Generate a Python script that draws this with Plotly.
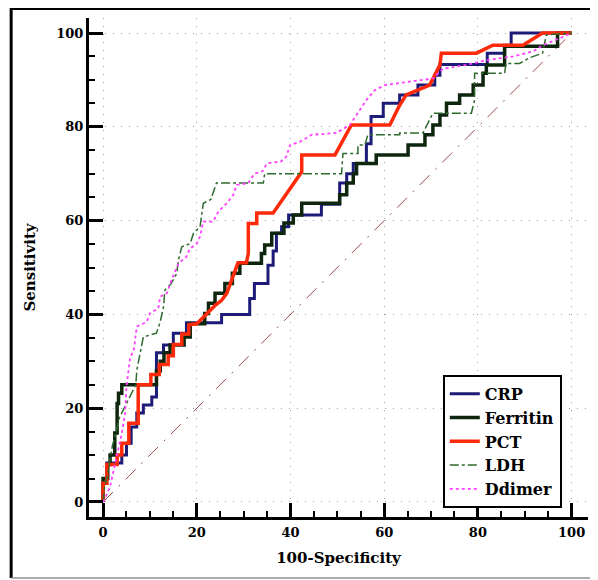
import plotly.graph_objects as go

# ---- data ----
crp_x = [0, 0, 0.8, 0.8, 4, 4, 5, 5, 6, 6, 7.2, 7.2, 8.6, 8.6, 10.4, 10.4, 11.4, 11.4, 12.9, 12.9, 15, 15,
         17.8, 17.8, 25.3, 25.3, 31.3, 31.3, 32.3, 32.3, 35.2, 35.2, 36.3, 36.3, 37, 37, 38.1, 38.1, 39.6, 39.6,
         46.6, 46.6, 50.5, 50.5, 52, 52, 53.4, 53.4, 56.2, 56.2, 57.2, 57.2, 59.8, 59.8, 63.3, 63.3, 67.2, 67.2,
         70.8, 70.8, 71.9, 71.9, 82, 82, 85.7, 85.7, 87.1, 87.1, 100]
crp_y = [0, 4, 4, 8.3, 8.3, 10, 10, 12.5, 12.5, 16, 16, 19, 19, 20.7, 20.7, 22.4, 22.4, 31.8, 31.8, 33.5, 33.5, 36,
         36, 38.2, 38.2, 40, 40, 43.4, 43.4, 46.6, 46.6, 50.5, 50.5, 53.5, 53.5, 57.3, 57.3, 58.7, 58.7, 61.2,
         61.2, 63.5, 63.5, 68, 68, 70, 70, 72.2, 72.2, 76.4, 76.4, 82.2, 82.2, 85, 85, 86.8, 86.8, 88.9,
         88.9, 91, 91, 93.3, 93.3, 95.7, 95.7, 97.4, 97.4, 100, 100]

ferritin_x = [0, 0, 1, 1, 1.5, 1.5, 2.5, 2.5, 3, 3, 3.3, 3.3, 4, 4, 11.4, 11.4, 12.2, 12.2, 13, 13, 14.3, 14.3,
              17.3, 17.3, 18.6, 18.6, 21.7, 21.7, 22.5, 22.5, 23.9, 23.9, 26, 26, 27.6, 27.6, 29.2, 29.2,
              33.8, 33.8, 34.5, 34.5, 36, 36, 38.6, 38.6, 40.6, 40.6, 42.4, 42.4, 50.5, 50.5, 52, 52, 53.4, 53.4,
              54.1, 54.1, 58.3, 58.3, 65.1, 65.1, 68.7, 68.7, 70.4, 70.4, 71.9, 71.9, 73.3, 73.3, 76.1, 76.1,
              79, 79, 81.1, 81.1, 81.8, 81.8, 85.7, 85.7, 97, 97, 100]
ferritin_y = [0, 5, 5, 8, 8, 10, 10, 14.7, 14.7, 21, 21, 23.2, 23.2, 25, 25, 28, 28, 30, 30, 31.8, 31.8, 33.5,
              33.5, 35.2, 35.2, 38, 38, 40.2, 40.2, 42.4, 42.4, 44.5, 44.5, 46.6, 46.6, 48.8, 48.8, 50.9,
              50.9, 53, 53, 54.8, 54.8, 57.3, 57.3, 59.5, 59.5, 61.2, 61.2, 63.7, 63.7, 65.5, 65.5, 68, 68, 70,
              70, 72.2, 72.2, 74, 74, 76.1, 76.1, 78.3, 78.3, 80.4, 80.4, 82.5, 82.5, 85, 85, 86.8,
              86.8, 88.9, 88.9, 91.4, 91.4, 93.2, 93.2, 97.2, 97.2, 100, 100]

pct_x = [0, 0, 0.8, 0.8, 3, 3, 4, 4, 5.5, 5.5, 7.5, 7.5, 10.2, 10.2, 12, 12, 13.9, 13.9, 15, 15, 16.8, 16.8,
         18.3, 18.3, 20, 22, 24, 25.3, 26.4, 28.8, 30.6, 31, 31, 32.8, 32.8, 36.3, 42.4, 42.4, 49.5, 53,
         61.2, 63.3, 64.7, 69.7, 71.9, 72.2, 79.7, 83.2, 89.6, 93.8, 100]
pct_y = [0, 4, 4, 8, 8, 10, 10, 12.5, 12.5, 16.8, 16.8, 25, 25, 27.2, 27.2, 29.3, 29.3, 31.2, 31.2, 33.6, 33.6, 35.8,
         35.8, 37.8, 38, 40, 42, 43, 44.5, 51, 51, 53, 59.4, 59.4, 61.6, 61.6, 70.4, 74, 74, 80.4,
         80.4, 84.6, 86.8, 88.9, 93.2, 95.7, 95.7, 97.4, 97.4, 100, 100]

ldh_x = [0, 0.3, 1, 1.5, 2, 2.8, 3.5, 5, 6.1, 7, 7.2, 8.2, 8.6, 11.4, 12.2, 12.9, 13.2, 14.5, 15.7, 16.1, 16.8,
         18.6, 19.3, 20.7, 21, 21.4, 23, 23.5, 24.2, 34.2, 34.5, 50.9, 51.2, 54.4, 54.4, 55.9, 56.5, 63.3, 63.3,
         68.3, 70.4, 78.6, 79.3, 79.3, 85.7, 86, 88.9, 91, 93.8, 94.6, 100]
ldh_y = [0, 3, 6, 9, 12, 15, 18, 21, 23.2, 25, 28.1, 32.8, 35.2, 36, 38.4, 41.6, 45.2, 46.5, 48.7, 51.6, 54.4,
         55.1, 57.3, 58.7, 61, 63.7, 64.5, 65.8, 68, 68, 70, 70, 74.3, 74.3, 76.1, 76.1, 78.3, 78.3, 78.7,
         78.7, 82.9, 82.9, 85.7, 91.4, 91.4, 93.5, 93.5, 94.7, 95.7, 99.6, 100]

ddimer_x = [0, 0.3, 1.5, 2.2, 2.9, 4, 4.7, 5, 5.4, 5.8, 6.5, 7.2, 9.3, 10, 11.8, 12.2, 13.6, 14.6, 16.1, 17.8,
            18.5, 20, 20.7, 21.4, 23.5, 24.6, 26.4, 27.8, 28.5, 31, 32.3, 34, 35, 38, 39.1, 39.9, 42, 44.5,
            49.8, 52.7, 56.2, 58, 60.1, 65.5, 70.4, 72.6, 77.5, 81.8, 87.5, 91.8, 93.9, 98.2, 100]
ddimer_y = [0, 0.5, 3.3, 6.8, 9.7, 14.6, 18.9, 24.6, 27.4, 31, 32, 37.4, 38.4, 40.2, 41.3, 43.8, 44.5, 47.3, 50.9,
            52.3, 54, 55.1, 56.6, 59.8, 59.8, 61.9, 63.7, 65.5, 67.6, 68, 70, 70.5, 72.2, 72.6, 73.6, 76.1, 76.8,
            78.3, 78.7, 80.4, 85.7, 87.8, 88.9, 89.6, 90.3, 92.4, 93.2, 94.2, 95, 96.1, 97.4, 99.2, 100]

ref_x = [0, 100]
ref_y = [0, 100]

tick_vals = [0, 20, 40, 60, 80, 100]
tick_text = ["0", "20", "40", "60", "80", "100"]

FONT = "DejaVu Serif"

fig = go.Figure()
fig.add_trace(go.Scatter(x=ref_x, y=ref_y, mode="lines", showlegend=False, hoverinfo="skip",
                         line=dict(color="#9a4a4a", width=1, dash="14px,8px,2px,8px")))
series = [
    ("CRP", crp_x, crp_y, dict(color="#1c1c78", width=3)),
    ("Ferritin", ferritin_x, ferritin_y, dict(color="#0e260e", width=3.5)),
    ("PCT", pct_x, pct_y, dict(color="#ff2a0a", width=3.5)),
    ("LDH", ldh_x, ldh_y, dict(color="#2f6a2f", width=1.5, dash="dashdot")),
    ("Ddimer", ddimer_x, ddimer_y, dict(color="#ff40ff", width=1.8, dash="dot")),
]
for name, xs, ys, ln in series:
    fig.add_trace(go.Scatter(x=xs, y=ys, mode="lines", name=name, line=ln))

axis_common = dict(
    tickvals=tick_vals, ticktext=tick_text, ticks="inside", ticklen=14, tickwidth=3, tickcolor="black",
    showline=True, linecolor="black", linewidth=3, mirror=False, zeroline=False,
    showgrid=True, gridcolor="#a0a0a0", gridwidth=1, griddash="1px,7px",
    tickfont=dict(family=FONT, size=13, color="black", weight="bold"),
    minor=dict(dtick=5, tick0=0, ticks="inside", ticklen=6, tickwidth=1.5, tickcolor="black", showgrid=False),
)
fig.update_xaxes(range=[-3, 103.5], title=dict(text="100-Specificity", standoff=14,
                 font=dict(family=FONT, size=15, color="black", weight="bold")), ticklabelstandoff=1, **axis_common)
fig.update_yaxes(range=[-3.2, 103.2], title=dict(text="Sensitivity", standoff=18,
                 font=dict(family=FONT, size=15, color="black", weight="bold")), ticklabelstandoff=0, **axis_common)

# page body adds an 8px offset; margins compensate so the plot lands where the reference has it
fig.update_layout(
    width=598, height=580,
    margin=dict(l=81, r=17.5, t=10, b=71),
    paper_bgcolor="white", plot_bgcolor="white",
    legend=dict(x=0.709, y=0.285, xanchor="left", yanchor="top", bgcolor="white",
                bordercolor="black", borderwidth=2, itemwidth=30, entrywidth=86, entrywidthmode="pixels",
                font=dict(family=FONT, size=16, color="black", weight="bold")),
    shapes=[
        dict(type="line", xref="paper", yref="paper", x0=-0.156, x1=1.015, y0=1.019, y1=1.019,
             line=dict(color="black", width=3)),
        dict(type="line", xref="paper", yref="paper", x0=-0.156, x1=-0.156, y0=-0.122, y1=1.02,
             line=dict(color="black", width=3)),
        dict(type="line", xref="paper", yref="paper", x0=1.015, x1=1.015, y0=-0.122, y1=1.02,
             line=dict(color="#909090", width=1.5)),
        dict(type="line", xref="paper", yref="paper", x0=-0.156, x1=1.015, y0=-0.122, y1=-0.122,
             line=dict(color="#909090", width=1.5)),
    ],
)

fig.write_html("out.html")
